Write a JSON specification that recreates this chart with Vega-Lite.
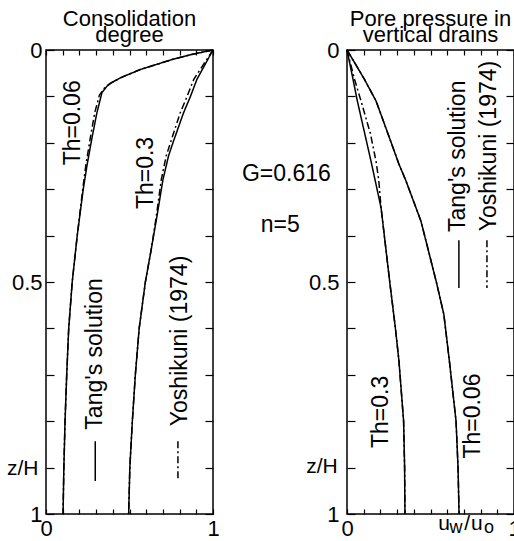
{
  "$schema": "https://vega.github.io/schema/vega-lite/v6.json",
  "padding": {"left": 6, "top": 7, "right": 0, "bottom": 0},
  "background": "white",
  "bounds": "flush",
  "spacing": 134,
  "config": {
    "font": "Liberation Sans",
    "view": {"stroke": "black", "strokeWidth": 1.5},
    "axis": {"domain": false, "grid": false, "tickColor": "black", "tickWidth": 1.2, "labelColor": "black", "labelFont": "Liberation Sans", "labelFontSize": 22, "labelFlush": false, "title": null},
    "title": {"font": "Liberation Sans", "fontSize": 22, "fontWeight": "normal", "color": "black", "lineHeight": 16, "offset": -8, "anchor": "middle"}
  },
  "datasets": {
    "curves": [
      {"panel": "C", "th": "0.06", "src": "Tang", "x": 1, "z": 0},
      {"panel": "C", "th": "0.06", "src": "Tang", "x": 0.88, "z": 0.009},
      {"panel": "C", "th": "0.06", "src": "Tang", "x": 0.76, "z": 0.02},
      {"panel": "C", "th": "0.06", "src": "Tang", "x": 0.565, "z": 0.042},
      {"panel": "C", "th": "0.06", "src": "Tang", "x": 0.445, "z": 0.06},
      {"panel": "C", "th": "0.06", "src": "Tang", "x": 0.39, "z": 0.071},
      {"panel": "C", "th": "0.06", "src": "Tang", "x": 0.365, "z": 0.078},
      {"panel": "C", "th": "0.06", "src": "Tang", "x": 0.335, "z": 0.092},
      {"panel": "C", "th": "0.06", "src": "Tang", "x": 0.305, "z": 0.135},
      {"panel": "C", "th": "0.06", "src": "Tang", "x": 0.275, "z": 0.19},
      {"panel": "C", "th": "0.06", "src": "Tang", "x": 0.245, "z": 0.25},
      {"panel": "C", "th": "0.06", "src": "Tang", "x": 0.223, "z": 0.3},
      {"panel": "C", "th": "0.06", "src": "Tang", "x": 0.187, "z": 0.4},
      {"panel": "C", "th": "0.06", "src": "Tang", "x": 0.157, "z": 0.5},
      {"panel": "C", "th": "0.06", "src": "Tang", "x": 0.136, "z": 0.6},
      {"panel": "C", "th": "0.06", "src": "Tang", "x": 0.124, "z": 0.7},
      {"panel": "C", "th": "0.06", "src": "Tang", "x": 0.114, "z": 0.8},
      {"panel": "C", "th": "0.06", "src": "Tang", "x": 0.107, "z": 0.9},
      {"panel": "C", "th": "0.06", "src": "Tang", "x": 0.102, "z": 1.0},
      {"panel": "C", "th": "0.06", "src": "Yoshikuni", "x": 1, "z": 0},
      {"panel": "C", "th": "0.06", "src": "Yoshikuni", "x": 0.88, "z": 0.009},
      {"panel": "C", "th": "0.06", "src": "Yoshikuni", "x": 0.76, "z": 0.02},
      {"panel": "C", "th": "0.06", "src": "Yoshikuni", "x": 0.565, "z": 0.042},
      {"panel": "C", "th": "0.06", "src": "Yoshikuni", "x": 0.445, "z": 0.06},
      {"panel": "C", "th": "0.06", "src": "Yoshikuni", "x": 0.38, "z": 0.073},
      {"panel": "C", "th": "0.06", "src": "Yoshikuni", "x": 0.35, "z": 0.082},
      {"panel": "C", "th": "0.06", "src": "Yoshikuni", "x": 0.32, "z": 0.097},
      {"panel": "C", "th": "0.06", "src": "Yoshikuni", "x": 0.292, "z": 0.135},
      {"panel": "C", "th": "0.06", "src": "Yoshikuni", "x": 0.265, "z": 0.19},
      {"panel": "C", "th": "0.06", "src": "Yoshikuni", "x": 0.238, "z": 0.25},
      {"panel": "C", "th": "0.06", "src": "Yoshikuni", "x": 0.22, "z": 0.3},
      {"panel": "C", "th": "0.06", "src": "Yoshikuni", "x": 0.187, "z": 0.4},
      {"panel": "C", "th": "0.06", "src": "Yoshikuni", "x": 0.157, "z": 0.5},
      {"panel": "C", "th": "0.06", "src": "Yoshikuni", "x": 0.136, "z": 0.6},
      {"panel": "C", "th": "0.06", "src": "Yoshikuni", "x": 0.124, "z": 0.7},
      {"panel": "C", "th": "0.06", "src": "Yoshikuni", "x": 0.114, "z": 0.8},
      {"panel": "C", "th": "0.06", "src": "Yoshikuni", "x": 0.107, "z": 0.9},
      {"panel": "C", "th": "0.06", "src": "Yoshikuni", "x": 0.102, "z": 1.0},
      {"panel": "C", "th": "0.3", "src": "Tang", "x": 1, "z": 0},
      {"panel": "C", "th": "0.3", "src": "Tang", "x": 0.904, "z": 0.063},
      {"panel": "C", "th": "0.3", "src": "Tang", "x": 0.865, "z": 0.1},
      {"panel": "C", "th": "0.3", "src": "Tang", "x": 0.824, "z": 0.135},
      {"panel": "C", "th": "0.3", "src": "Tang", "x": 0.76, "z": 0.2},
      {"panel": "C", "th": "0.3", "src": "Tang", "x": 0.734, "z": 0.228},
      {"panel": "C", "th": "0.3", "src": "Tang", "x": 0.7, "z": 0.28},
      {"panel": "C", "th": "0.3", "src": "Tang", "x": 0.666, "z": 0.355},
      {"panel": "C", "th": "0.3", "src": "Tang", "x": 0.63, "z": 0.43},
      {"panel": "C", "th": "0.3", "src": "Tang", "x": 0.595, "z": 0.5},
      {"panel": "C", "th": "0.3", "src": "Tang", "x": 0.558, "z": 0.6},
      {"panel": "C", "th": "0.3", "src": "Tang", "x": 0.535, "z": 0.7},
      {"panel": "C", "th": "0.3", "src": "Tang", "x": 0.517, "z": 0.8},
      {"panel": "C", "th": "0.3", "src": "Tang", "x": 0.502, "z": 0.9},
      {"panel": "C", "th": "0.3", "src": "Tang", "x": 0.495, "z": 1.0},
      {"panel": "C", "th": "0.3", "src": "Yoshikuni", "x": 1, "z": 0},
      {"panel": "C", "th": "0.3", "src": "Yoshikuni", "x": 0.885, "z": 0.063},
      {"panel": "C", "th": "0.3", "src": "Yoshikuni", "x": 0.845, "z": 0.1},
      {"panel": "C", "th": "0.3", "src": "Yoshikuni", "x": 0.804, "z": 0.135},
      {"panel": "C", "th": "0.3", "src": "Yoshikuni", "x": 0.745, "z": 0.2},
      {"panel": "C", "th": "0.3", "src": "Yoshikuni", "x": 0.72, "z": 0.228},
      {"panel": "C", "th": "0.3", "src": "Yoshikuni", "x": 0.69, "z": 0.28},
      {"panel": "C", "th": "0.3", "src": "Yoshikuni", "x": 0.662, "z": 0.355},
      {"panel": "C", "th": "0.3", "src": "Yoshikuni", "x": 0.63, "z": 0.43},
      {"panel": "C", "th": "0.3", "src": "Yoshikuni", "x": 0.595, "z": 0.5},
      {"panel": "C", "th": "0.3", "src": "Yoshikuni", "x": 0.558, "z": 0.6},
      {"panel": "C", "th": "0.3", "src": "Yoshikuni", "x": 0.535, "z": 0.7},
      {"panel": "C", "th": "0.3", "src": "Yoshikuni", "x": 0.517, "z": 0.8},
      {"panel": "C", "th": "0.3", "src": "Yoshikuni", "x": 0.502, "z": 0.9},
      {"panel": "C", "th": "0.3", "src": "Yoshikuni", "x": 0.495, "z": 1.0},
      {"panel": "P", "th": "0.06", "src": "Tang", "x": 0, "z": 0},
      {"panel": "P", "th": "0.06", "src": "Tang", "x": 0.05, "z": 0.03},
      {"panel": "P", "th": "0.06", "src": "Tang", "x": 0.104, "z": 0.063},
      {"panel": "P", "th": "0.06", "src": "Tang", "x": 0.174, "z": 0.11},
      {"panel": "P", "th": "0.06", "src": "Tang", "x": 0.255, "z": 0.19},
      {"panel": "P", "th": "0.06", "src": "Tang", "x": 0.31, "z": 0.245},
      {"panel": "P", "th": "0.06", "src": "Tang", "x": 0.353, "z": 0.282},
      {"panel": "P", "th": "0.06", "src": "Tang", "x": 0.443, "z": 0.369},
      {"panel": "P", "th": "0.06", "src": "Tang", "x": 0.535, "z": 0.5},
      {"panel": "P", "th": "0.06", "src": "Tang", "x": 0.58, "z": 0.57},
      {"panel": "P", "th": "0.06", "src": "Tang", "x": 0.613, "z": 0.67},
      {"panel": "P", "th": "0.06", "src": "Tang", "x": 0.653, "z": 0.8},
      {"panel": "P", "th": "0.06", "src": "Tang", "x": 0.665, "z": 0.9},
      {"panel": "P", "th": "0.06", "src": "Tang", "x": 0.671, "z": 1.0},
      {"panel": "P", "th": "0.06", "src": "Yoshikuni", "x": 0, "z": 0},
      {"panel": "P", "th": "0.06", "src": "Yoshikuni", "x": 0.05, "z": 0.03},
      {"panel": "P", "th": "0.06", "src": "Yoshikuni", "x": 0.104, "z": 0.063},
      {"panel": "P", "th": "0.06", "src": "Yoshikuni", "x": 0.174, "z": 0.11},
      {"panel": "P", "th": "0.06", "src": "Yoshikuni", "x": 0.255, "z": 0.19},
      {"panel": "P", "th": "0.06", "src": "Yoshikuni", "x": 0.31, "z": 0.245},
      {"panel": "P", "th": "0.06", "src": "Yoshikuni", "x": 0.353, "z": 0.282},
      {"panel": "P", "th": "0.06", "src": "Yoshikuni", "x": 0.443, "z": 0.369},
      {"panel": "P", "th": "0.06", "src": "Yoshikuni", "x": 0.535, "z": 0.5},
      {"panel": "P", "th": "0.06", "src": "Yoshikuni", "x": 0.58, "z": 0.57},
      {"panel": "P", "th": "0.06", "src": "Yoshikuni", "x": 0.613, "z": 0.67},
      {"panel": "P", "th": "0.06", "src": "Yoshikuni", "x": 0.653, "z": 0.8},
      {"panel": "P", "th": "0.06", "src": "Yoshikuni", "x": 0.665, "z": 0.9},
      {"panel": "P", "th": "0.06", "src": "Yoshikuni", "x": 0.671, "z": 1.0},
      {"panel": "P", "th": "0.3", "src": "Tang", "x": 0, "z": 0},
      {"panel": "P", "th": "0.3", "src": "Tang", "x": 0.036, "z": 0.063},
      {"panel": "P", "th": "0.3", "src": "Tang", "x": 0.062, "z": 0.11},
      {"panel": "P", "th": "0.3", "src": "Tang", "x": 0.144, "z": 0.24},
      {"panel": "P", "th": "0.3", "src": "Tang", "x": 0.204, "z": 0.34},
      {"panel": "P", "th": "0.3", "src": "Tang", "x": 0.256, "z": 0.5},
      {"panel": "P", "th": "0.3", "src": "Tang", "x": 0.29, "z": 0.6},
      {"panel": "P", "th": "0.3", "src": "Tang", "x": 0.311, "z": 0.67},
      {"panel": "P", "th": "0.3", "src": "Tang", "x": 0.339, "z": 0.8},
      {"panel": "P", "th": "0.3", "src": "Tang", "x": 0.345, "z": 0.9},
      {"panel": "P", "th": "0.3", "src": "Tang", "x": 0.347, "z": 1.0},
      {"panel": "P", "th": "0.3", "src": "Yoshikuni", "x": 0, "z": 0},
      {"panel": "P", "th": "0.3", "src": "Yoshikuni", "x": 0.045, "z": 0.063},
      {"panel": "P", "th": "0.3", "src": "Yoshikuni", "x": 0.084, "z": 0.11},
      {"panel": "P", "th": "0.3", "src": "Yoshikuni", "x": 0.14, "z": 0.18},
      {"panel": "P", "th": "0.3", "src": "Yoshikuni", "x": 0.174, "z": 0.24},
      {"panel": "P", "th": "0.3", "src": "Yoshikuni", "x": 0.19, "z": 0.28},
      {"panel": "P", "th": "0.3", "src": "Yoshikuni", "x": 0.204, "z": 0.34},
      {"panel": "P", "th": "0.3", "src": "Yoshikuni", "x": 0.256, "z": 0.5},
      {"panel": "P", "th": "0.3", "src": "Yoshikuni", "x": 0.29, "z": 0.6},
      {"panel": "P", "th": "0.3", "src": "Yoshikuni", "x": 0.311, "z": 0.67},
      {"panel": "P", "th": "0.3", "src": "Yoshikuni", "x": 0.339, "z": 0.8},
      {"panel": "P", "th": "0.3", "src": "Yoshikuni", "x": 0.345, "z": 0.9},
      {"panel": "P", "th": "0.3", "src": "Yoshikuni", "x": 0.347, "z": 1.0}
    ],
    "samples": [
      {"panel": "C", "src": "Tang", "x": 0.295, "z": 0.843, "z2": 0.929},
      {"panel": "C", "src": "Yoshikuni", "x": 0.79, "z": 0.843, "z2": 0.929},
      {"panel": "P", "src": "Tang", "x": 0.67, "z": 0.41, "z2": 0.513},
      {"panel": "P", "src": "Yoshikuni", "x": 0.838, "z": 0.41, "z2": 0.513}
    ],
    "vlabels": [
      {"panel": "C", "t": "Th=0.06", "x": 0.163, "z": 0.157},
      {"panel": "C", "t": "Th=0.3", "x": 0.6, "z": 0.265},
      {"panel": "C", "t": "Tang's solution", "x": 0.295, "z": 0.655},
      {"panel": "C", "t": "Yoshikuni (1974)", "x": 0.8, "z": 0.627},
      {"panel": "P", "t": "Tang's solution", "x": 0.665, "z": 0.229},
      {"panel": "P", "t": "Yoshikuni (1974)", "x": 0.85, "z": 0.207},
      {"panel": "P", "t": "Th=0.3", "x": 0.204, "z": 0.78},
      {"panel": "P", "t": "Th=0.06", "x": 0.754, "z": 0.789}
    ],
    "hlabels": [
      {"panel": "C", "t": "G=0.616", "x": 1.439, "z": 0.267},
      {"panel": "C", "t": "n=5", "x": 1.403, "z": 0.377}
    ],
    "zlabels": [
      {"panel": "C", "t": "z/H", "x": -0.139, "z": 0.903},
      {"panel": "P", "t": "z/H", "x": -0.15, "z": 0.899}
    ],
    "xtitle": [
      {"panel": "P", "t": "u", "x": 0.581, "z": 1.0345},
      {"panel": "P", "t": "/", "x": 0.719, "z": 1.0345},
      {"panel": "P", "t": "u", "x": 0.778, "z": 1.0345}
    ],
    "xsub": [
      {"panel": "P", "t": "w", "x": 0.653, "z": 1.041},
      {"panel": "P", "t": "o", "x": 0.85, "z": 1.041}
    ]
  },
  "hconcat": [
    {
      "width": 167,
      "height": 464,
      "title": {"text": ["Consolidation", "degree"]},
      "resolve": {"axis": {"x": "independent", "y": "independent"}},
      "layer": [
        {
          "data": {"name": "curves"},
          "transform": [{"filter": "datum.panel == 'C'"}],
          "mark": {"type": "line", "color": "black", "strokeWidth": 1.5},
          "encoding": {
            "x": {"field": "x", "type": "quantitative", "scale": {"domain": [0, 1], "nice": false, "zero": false},
              "axis": {"orient": "bottom", "values": [0, 0.1, 0.2, 0.3, 0.4, 0.5, 0.6, 0.7, 0.8, 0.9, 1], "tickSize": -5, "labelPadding": 9,
                "labelExpr": "datum.value == 0 ? '0' : datum.value == 1 ? '1' : ''"}},
            "y": {"field": "z", "type": "quantitative", "scale": {"domain": [0, 1], "nice": false, "zero": false, "reverse": true},
              "axis": {"orient": "left", "values": [0, 0.1, 0.2, 0.3, 0.4, 0.5, 0.6, 0.7, 0.8, 0.9, 1], "tickSize": -8, "labelPadding": 12,
                "labelExpr": "datum.value == 0 ? '0' : datum.value == 0.5 ? '0.5' : datum.value == 1 ? '1' : ''"}},
            "detail": {"field": "th", "type": "nominal"},
            "order": {"field": "z", "type": "quantitative"},
            "strokeDash": {"field": "src", "type": "nominal", "scale": {"domain": ["Tang", "Yoshikuni"], "range": [[1, 0], [7, 3, 2, 3]]}, "legend": null}
          }
        },
        {
          "data": {"name": "samples"},
          "transform": [{"filter": "datum.panel == 'C'"}],
          "mark": {"type": "rule", "color": "black", "strokeWidth": 1.5},
          "encoding": {
            "x": {"field": "x", "type": "quantitative", "scale": {"domain": [0, 1], "nice": false, "zero": false},
              "axis": {"orient": "top", "values": [0, 0.1, 0.2, 0.3, 0.4, 0.5, 0.6, 0.7, 0.8, 0.9, 1], "tickSize": -5, "labels": false}},
            "y": {"field": "z", "type": "quantitative", "scale": {"domain": [0, 1], "nice": false, "zero": false, "reverse": true},
              "axis": {"orient": "right", "values": [0, 0.1, 0.2, 0.3, 0.4, 0.5, 0.6, 0.7, 0.8, 0.9, 1], "tickSize": -8, "labels": false}},
            "y2": {"field": "z2"},
            "strokeDash": {"field": "src", "type": "nominal", "legend": null}
          }
        },
        {
          "data": {"name": "vlabels"},
          "transform": [{"filter": "datum.panel == 'C'"}],
          "mark": {"type": "text", "angle": 270, "fontSize": 23, "color": "black", "align": "center", "baseline": "middle"},
          "encoding": {
            "x": {"field": "x", "type": "quantitative", "axis": null},
            "y": {"field": "z", "type": "quantitative", "axis": null},
            "text": {"field": "t"}
          }
        },
        {
          "data": {"name": "hlabels"},
          "transform": [{"filter": "datum.panel == 'C'"}],
          "mark": {"type": "text", "fontSize": 23, "color": "black", "align": "center", "baseline": "middle"},
          "encoding": {
            "x": {"field": "x", "type": "quantitative", "axis": null},
            "y": {"field": "z", "type": "quantitative", "axis": null},
            "text": {"field": "t"}
          }
        },
        {
          "data": {"name": "zlabels"},
          "transform": [{"filter": "datum.panel == 'C'"}],
          "mark": {"type": "text", "fontSize": 21, "color": "black", "align": "center", "baseline": "middle"},
          "encoding": {
            "x": {"field": "x", "type": "quantitative", "axis": null},
            "y": {"field": "z", "type": "quantitative", "axis": null},
            "text": {"field": "t"}
          }
        }
      ]
    },
    {
      "width": 167,
      "height": 464,
      "title": {"text": ["Pore pressure in", "vertical drains"]},
      "resolve": {"axis": {"x": "independent", "y": "independent"}},
      "layer": [
        {
          "data": {"name": "curves"},
          "transform": [{"filter": "datum.panel == 'P'"}],
          "mark": {"type": "line", "color": "black", "strokeWidth": 1.5},
          "encoding": {
            "x": {"field": "x", "type": "quantitative", "scale": {"domain": [0, 1], "nice": false, "zero": false},
              "axis": {"orient": "bottom", "values": [0, 0.1, 0.2, 0.3, 0.4, 0.5, 0.6, 0.7, 0.8, 0.9, 1], "tickSize": -5, "labelPadding": 9,
                "labelExpr": "datum.value == 0 ? '0' : datum.value == 1 ? '1' : ''"}},
            "y": {"field": "z", "type": "quantitative", "scale": {"domain": [0, 1], "nice": false, "zero": false, "reverse": true},
              "axis": {"orient": "left", "values": [0, 0.1, 0.2, 0.3, 0.4, 0.5, 0.6, 0.7, 0.8, 0.9, 1], "tickSize": -8, "labelPadding": 16,
                "labelExpr": "datum.value == 0 ? '0' : datum.value == 0.5 ? '0.5' : datum.value == 1 ? '1' : ''"}},
            "detail": {"field": "th", "type": "nominal"},
            "order": {"field": "z", "type": "quantitative"},
            "strokeDash": {"field": "src", "type": "nominal", "scale": {"domain": ["Tang", "Yoshikuni"], "range": [[1, 0], [7, 3, 2, 3]]}, "legend": null}
          }
        },
        {
          "data": {"name": "samples"},
          "transform": [{"filter": "datum.panel == 'P'"}],
          "mark": {"type": "rule", "color": "black", "strokeWidth": 1.5},
          "encoding": {
            "x": {"field": "x", "type": "quantitative", "scale": {"domain": [0, 1], "nice": false, "zero": false},
              "axis": {"orient": "top", "values": [0, 0.1, 0.2, 0.3, 0.4, 0.5, 0.6, 0.7, 0.8, 0.9, 1], "tickSize": -5, "labels": false}},
            "y": {"field": "z", "type": "quantitative", "scale": {"domain": [0, 1], "nice": false, "zero": false, "reverse": true},
              "axis": {"orient": "right", "values": [0, 0.1, 0.2, 0.3, 0.4, 0.5, 0.6, 0.7, 0.8, 0.9, 1], "tickSize": -8, "labels": false}},
            "y2": {"field": "z2"},
            "strokeDash": {"field": "src", "type": "nominal", "legend": null}
          }
        },
        {
          "data": {"name": "vlabels"},
          "transform": [{"filter": "datum.panel == 'P'"}],
          "mark": {"type": "text", "angle": 270, "fontSize": 23, "color": "black", "align": "center", "baseline": "middle"},
          "encoding": {
            "x": {"field": "x", "type": "quantitative", "axis": null},
            "y": {"field": "z", "type": "quantitative", "axis": null},
            "text": {"field": "t"}
          }
        },
        {
          "data": {"name": "zlabels"},
          "transform": [{"filter": "datum.panel == 'P'"}],
          "mark": {"type": "text", "fontSize": 21, "color": "black", "align": "center", "baseline": "middle"},
          "encoding": {
            "x": {"field": "x", "type": "quantitative", "axis": null},
            "y": {"field": "z", "type": "quantitative", "axis": null},
            "text": {"field": "t"}
          }
        },
        {
          "data": {"name": "xtitle"},
          "mark": {"type": "text", "fontSize": 21, "color": "black", "align": "center", "baseline": "alphabetic"},
          "encoding": {
            "x": {"field": "x", "type": "quantitative", "axis": null},
            "y": {"field": "z", "type": "quantitative", "axis": null},
            "text": {"field": "t"}
          }
        },
        {
          "data": {"name": "xsub"},
          "mark": {"type": "text", "fontSize": 18, "color": "black", "align": "center", "baseline": "alphabetic"},
          "encoding": {
            "x": {"field": "x", "type": "quantitative", "axis": null},
            "y": {"field": "z", "type": "quantitative", "axis": null},
            "text": {"field": "t"}
          }
        }
      ]
    }
  ]
}
